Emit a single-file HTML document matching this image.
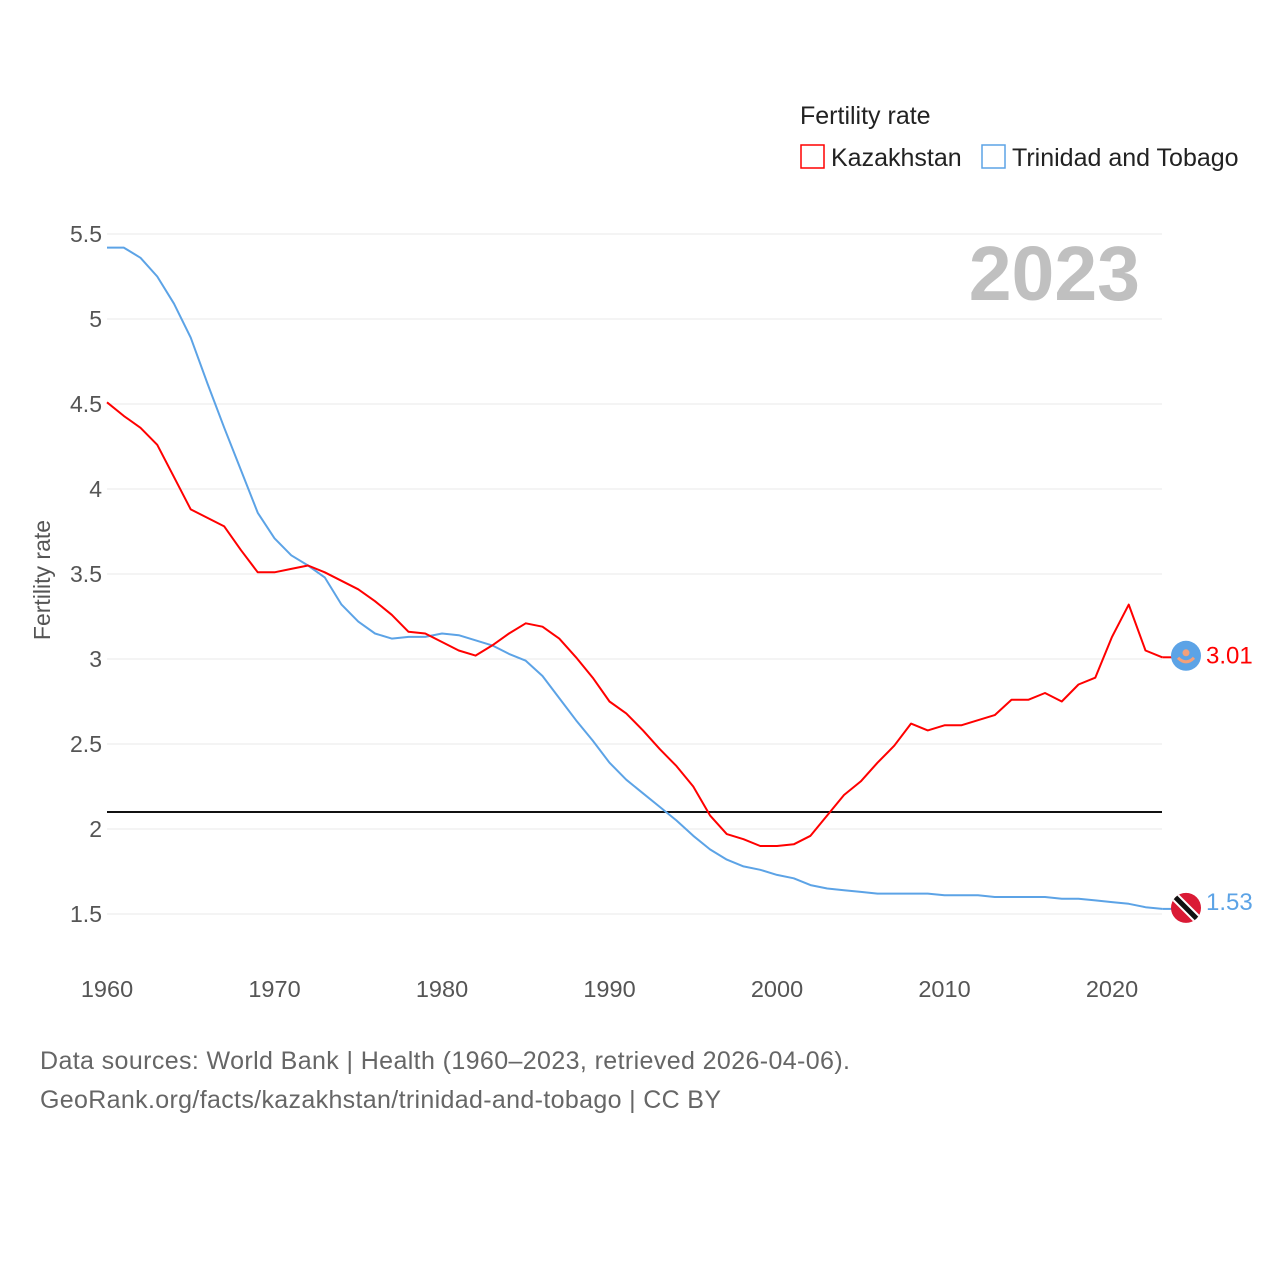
<!DOCTYPE html>
<html><head><meta charset="utf-8">
<style>
html,body{margin:0;padding:0;background:#fff;}
svg{display:block;font-family:"Liberation Sans",sans-serif;}
</style></head>
<body>
<svg id="chart" width="1280" height="1280" viewBox="0 0 1280 1280">
  <g>
    <text x="800" y="124" font-size="25" fill="#222">Fertility rate</text>
    <g>
      <rect x="801" y="145" width="23" height="23" fill="none" stroke="#ff0000" stroke-width="1.5"/>
      <text x="831" y="166" font-size="25" fill="#222">Kazakhstan</text>
    </g>
    <g>
      <rect x="982" y="145" width="23" height="23" fill="none" stroke="#5ca3e6" stroke-width="1.5"/>
      <text x="1012" y="166" font-size="25" fill="#222">Trinidad and Tobago</text>
    </g>
  </g>
  <text x="1140" y="300" font-size="77" font-weight="bold" fill="#c0c0c0" text-anchor="end">2023</text>
  <g id="grid"></g>
  <g id="yticks"></g>
  <g id="xticks"></g>
  <text transform="translate(50,580) rotate(-90)" font-size="23" fill="#555" text-anchor="middle">Fertility rate</text>
  <g id="series"></g>
  <g id="ends"></g>
  <text x="40" y="1069" font-size="25" fill="#666" textLength="810">Data sources: World Bank | Health (1960–2023, retrieved 2026-04-06).</text>
  <text x="40" y="1108" font-size="25" fill="#666" textLength="681">GeoRank.org/facts/kazakhstan/trinidad-and-tobago | CC BY</text>
</svg>
<script>
const startYear = 1960;
const kazakhstan = [4.51,4.43,4.36,4.26,4.07,3.88,3.83,3.78,3.64,3.51,3.51,3.53,3.55,3.51,3.46,3.41,3.34,3.26,3.16,3.15,3.10,3.05,3.02,3.08,3.15,3.21,3.19,3.12,3.01,2.89,2.75,2.68,2.58,2.47,2.37,2.25,2.08,1.97,1.94,1.90,1.90,1.91,1.96,2.08,2.20,2.28,2.39,2.49,2.62,2.58,2.61,2.61,2.64,2.67,2.76,2.76,2.80,2.75,2.85,2.89,3.13,3.32,3.05,3.01];
const trinidad = [5.42,5.42,5.36,5.25,5.09,4.89,4.62,4.36,4.11,3.86,3.71,3.61,3.55,3.48,3.32,3.22,3.15,3.12,3.13,3.13,3.15,3.14,3.11,3.08,3.03,2.99,2.90,2.77,2.64,2.52,2.39,2.29,2.21,2.13,2.05,1.96,1.88,1.82,1.78,1.76,1.73,1.71,1.67,1.65,1.64,1.63,1.62,1.62,1.62,1.62,1.61,1.61,1.61,1.60,1.60,1.60,1.60,1.59,1.59,1.58,1.57,1.56,1.54,1.53];
const yTicks = [1.5,2,2.5,3,3.5,4,4.5,5,5.5];
const yTickLabels = ["1.5","2","2.5","3","3.5","4","4.5","5","5.5"];
const xTicks = [1960,1970,1980,1990,2000,2010,2020];
const replacementLevel = 2.1;

const NS = "http://www.w3.org/2000/svg";
const X = yr => 107 + (yr - 1960) * (1005 / 60);
const Y = v => 914 - (v - 1.5) * 170;
function mk(tag, attrs, parent){const e=document.createElementNS(NS,tag);for(const k in attrs)e.setAttribute(k,attrs[k]);parent.appendChild(e);return e;}

const grid=document.getElementById('grid'), yt=document.getElementById('yticks'), xt=document.getElementById('xticks');
yTicks.forEach((v,i)=>{
  const l=mk('line',{x1:107,x2:1162,y1:Y(v),y2:Y(v),stroke:'#e8e8e8','stroke-width':1},grid);
  
  
  const t=mk('text',{x:102,y:Y(v)+8,'font-size':23,fill:'#555','text-anchor':'end'},yt);
  t.textContent=yTickLabels[i];
  
  
});
xTicks.forEach(yr=>{
  const t=mk('text',{x:X(yr),y:997,'font-size':23.5,fill:'#555','text-anchor':'middle'},xt);
  t.textContent=String(yr);
  
  
});
const ser=document.getElementById('series');
const ref=mk('line',{x1:107,x2:1162,y1:Y(replacementLevel),y2:Y(replacementLevel),stroke:'#111','stroke-width':2},ser);


function line(data,color,name){
  const d=data.map((v,i)=>(i?'L':'M')+X(startYear+i).toFixed(2)+','+Y(v).toFixed(2)).join('');
  const p=mk('path',{d:d,fill:'none',stroke:color,'stroke-width':2,'stroke-linejoin':'round'},ser);
  
  
}
line(trinidad,'#5ca3e6','line-trinidad');
line(kazakhstan,'#ff0000','line-kazakhstan');

const ends=document.getElementById('ends');
const lastYr=startYear+kazakhstan.length-1;
const kv=kazakhstan[kazakhstan.length-1], tv=trinidad[trinidad.length-1];
const kg=mk('g',{},ends);


const ky=Y(kv)-1.5;
mk('line',{x1:X(lastYr),x2:X(lastYr)+10,y1:Y(kv),y2:Y(kv),stroke:'#ff0000','stroke-width':2},kg);
mk('circle',{cx:1186,cy:ky,r:15,fill:'#5ca3e6'},kg);
mk('circle',{cx:1186,cy:ky-3,r:3.5,fill:'#f4a07a'},kg);
mk('path',{d:`M1178 ${ky+2} Q1186 ${ky+10} 1194 ${ky+2}`,fill:'none',stroke:'#f4a07a','stroke-width':3},kg);
const kt=mk('text',{x:1206,y:Y(kv)+6,'font-size':24,fill:'#ff0000'},ends);
kt.textContent=kv.toFixed(2);


const tg=mk('g',{},ends);


mk('line',{x1:X(lastYr),x2:X(lastYr)+10,y1:Y(tv),y2:Y(tv),stroke:'#5ca3e6','stroke-width':2},tg);
const cy=Y(tv)-1;
const cp=mk('clipPath',{id:'tc'},tg);
mk('circle',{cx:1186,cy:cy,r:15},cp);
mk('circle',{cx:1186,cy:cy,r:15,fill:'#da1a35'},tg);
mk('line',{x1:1172,y1:cy-14,x2:1200,y2:cy+14,stroke:'#fff','stroke-width':9,'clip-path':'url(#tc)'},tg);
mk('line',{x1:1172,y1:cy-14,x2:1200,y2:cy+14,stroke:'#111','stroke-width':5,'clip-path':'url(#tc)'},tg);
const tt=mk('text',{x:1206,y:Y(tv)+1,'font-size':24,fill:'#5ca3e6'},ends);
tt.textContent=tv.toFixed(2);


</script>
</body></html>
